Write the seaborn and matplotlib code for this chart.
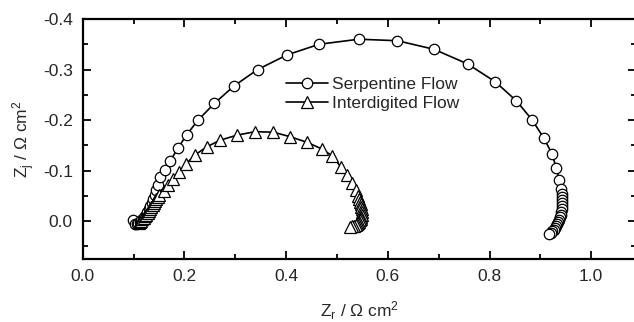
import numpy as np
import pandas as pd
import matplotlib
matplotlib.use("Agg")
import matplotlib.pyplot as plt
import seaborn as sns
from matplotlib.ticker import FixedLocator, FixedFormatter

# ---- data ----
serp_zr = [0.098, 0.103, 0.106, 0.109, 0.112, 0.115, 0.118, 0.121, 0.124, 0.127,
           0.130, 0.133, 0.136, 0.139, 0.142, 0.145, 0.1475, 0.152, 0.162, 0.172,
           0.187, 0.2045, 0.227, 0.259, 0.297, 0.344, 0.402, 0.465, 0.543, 0.619,
           0.691, 0.757, 0.811, 0.853, 0.884, 0.907, 0.923, 0.931, 0.937, 0.940,
           0.942, 0.943, 0.943, 0.943, 0.943, 0.942, 0.941, 0.940, 0.939, 0.937,
           0.935, 0.933, 0.931, 0.929, 0.926, 0.923, 0.920, 0.917]
serp_zj = [-0.003, 0.005, 0.005, 0.003, 0.001, -0.002, -0.005, -0.009, -0.013, -0.018,
           -0.023, -0.029, -0.036, -0.044, -0.052, -0.061, -0.071, -0.087, -0.102, -0.119,
           -0.144, -0.171, -0.200, -0.233, -0.267, -0.300, -0.329, -0.350, -0.360, -0.357,
           -0.340, -0.311, -0.276, -0.238, -0.200, -0.164, -0.133, -0.106, -0.081, -0.063,
           -0.054, -0.047, -0.041, -0.035, -0.029, -0.023, -0.018, -0.013, -0.008, -0.003,
           0.002, 0.006, 0.010, 0.013, 0.017, 0.020, 0.023, 0.026]

inter_zr = [0.110, 0.1125, 0.115, 0.1175, 0.120, 0.1225, 0.125, 0.1275, 0.130, 0.1325,
            0.135, 0.1375, 0.140, 0.1425, 0.145, 0.148, 0.151, 0.159, 0.168, 0.178,
            0.190, 0.203, 0.221, 0.244, 0.270, 0.303, 0.339, 0.375, 0.408, 0.441,
            0.470, 0.491, 0.507, 0.519, 0.529, 0.537, 0.542, 0.544, 0.546, 0.547,
            0.548, 0.549, 0.549, 0.549, 0.548, 0.547, 0.546, 0.544, 0.542, 0.540,
            0.537, 0.534, 0.530, 0.526]
inter_zj = [0.003, 0.001, -0.001, -0.004, -0.007, -0.010, -0.013, -0.016, -0.020, -0.024,
            -0.028, -0.032, -0.036, -0.040, -0.044, -0.048, -0.052, -0.060, -0.071, -0.084,
            -0.098, -0.113, -0.131, -0.147, -0.160, -0.170, -0.177, -0.176, -0.167, -0.156,
            -0.143, -0.129, -0.108, -0.091, -0.075, -0.061, -0.050, -0.044, -0.038, -0.033,
            -0.028, -0.023, -0.018, -0.013, -0.009, -0.005, -0.002, 0.001, 0.003, 0.005,
            0.007, 0.009, 0.010, 0.011]

series_names = ["Serpentine Flow", "Interdigited Flow"]
x_major = [0.0, 0.2, 0.4, 0.6, 0.8, 1.0]
x_labels = ["0.0", "0.2", "0.4", "0.6", "0.8", "1.0"]
x_minor = [0.1, 0.3, 0.5, 0.7, 0.9]
y_major = [-0.4, -0.3, -0.2, -0.1, 0.0]
y_labels = ["-0.4", "-0.3", "-0.2", "-0.1", "0.0"]
y_minor = [-0.35, -0.25, -0.15, -0.05, 0.05]

serp = pd.DataFrame({"zr": serp_zr, "zj": serp_zj})
inter = pd.DataFrame({"zr": inter_zr, "zj": inter_zj})

sns.set_style("ticks")
plt.rcParams["font.family"] = ["Liberation Sans", "DejaVu Sans"]
plt.rcParams["mathtext.default"] = "regular"
plt.rcParams["font.size"] = 12.5

fig = plt.figure(figsize=(6.34, 3.22), dpi=100)
right_px = 636.0
ax = fig.add_axes([82.7 / 634, 1 - 259 / 322, (right_px - 82.7) / 634, (259 - 19) / 322])

common = dict(sort=False, estimator=None, color="black", linewidth=1.2,
              markerfacecolor="white", markeredgecolor="black", markeredgewidth=0.9,
              ax=ax)
sns.lineplot(data=serp, x="zr", y="zj", marker="o", markersize=7.5,
             label=series_names[0], **common)
sns.lineplot(data=inter, x="zr", y="zj", marker="^", markersize=8,
             label=series_names[1], **common)

ax.set_xlim(0.0, (right_px - 82.7) / 508.5)
ax.set_ylim(0.075, -0.4)

ax.xaxis.set_major_locator(FixedLocator(x_major))
ax.xaxis.set_major_formatter(FixedFormatter(x_labels))
ax.xaxis.set_minor_locator(FixedLocator(x_minor))
ax.yaxis.set_major_locator(FixedLocator(y_major))
ax.yaxis.set_major_formatter(FixedFormatter(y_labels))
ax.yaxis.set_minor_locator(FixedLocator(y_minor))

ax.tick_params(which="both", direction="in", top=True, right=True,
               width=1.3, color="black", labelsize=12.5)
ax.tick_params(which="major", length=6, pad=7)
ax.tick_params(which="minor", length=3.5)
for s in ax.spines.values():
    s.set_linewidth(1.6)
    s.set_color("black")

ax.set_xlabel("Z$_\\mathregular{r}$ / \u03a9 cm$^\\mathregular{2}$", fontsize=12.5, labelpad=11)
ax.set_ylabel("Z$_\\mathregular{j}$ / \u03a9 cm$^\\mathregular{2}$", fontsize=12.5, labelpad=4.5)

leg = ax.legend(loc="upper left", bbox_to_anchor=(0.368, 0.758), frameon=False,
                borderpad=0, borderaxespad=0, handlelength=2.4, handletextpad=0.25,
                labelspacing=0.2, fontsize=12.5)

fig.savefig("out.png", dpi=100)
